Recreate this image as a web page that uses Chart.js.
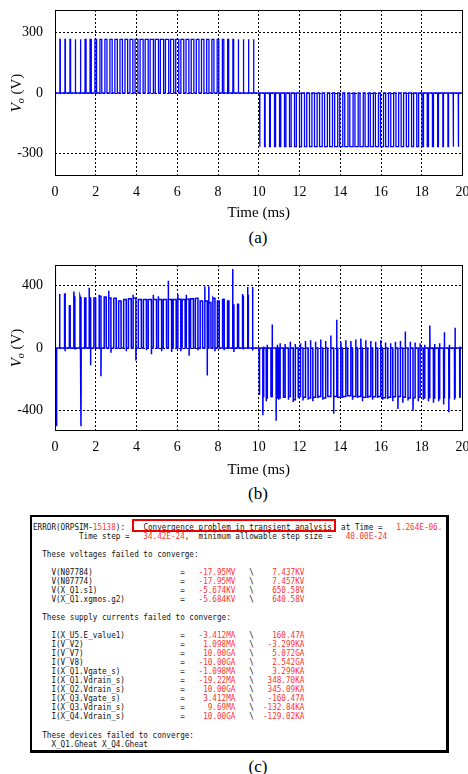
<!DOCTYPE html>
<html>
<head>
<meta charset="utf-8">
<script src="https://cdn.jsdelivr.net/npm/chart.js@4.4.1/dist/chart.umd.min.js"></script>
<style>
  html, body { margin: 0; padding: 0; background: #fff; }
  #page { position: relative; width: 468px; height: 774px; overflow: hidden; background: #fff; }
  canvas { position: absolute; left: 0; }
  .cap { position: absolute; left: 208px; width: 100px; text-align: center; font: 17px "Liberation Serif", serif; line-height: 18px; color: #000; }
  #log { position: absolute; left: 29.5px; top: 515px; width: 419.5px; height: 237.5px; box-sizing: border-box; border: solid #000; border-width: 2px 3px 3px 2px; }
  #logText { position: absolute; left: 33.3px; top: 521.5px; margin: 0; font: 9.5px "DejaVu Sans Mono", monospace; line-height: 9.05px; color: #111; white-space: pre; transform: scaleX(0.804); transform-origin: 0 0; }
  #logText .r { color: #f33; }
  #mark { position: absolute; left: 131.7px; top: 519px; width: 204px; height: 13px; box-sizing: border-box; border: 2px solid #e00; }
</style>
</head>
<body>
<div id="page">
  <canvas id="chartA" width="468" height="222" style="top:0"></canvas>
  <div class="cap" style="top:229px">(a)</div>
  <canvas id="chartB" width="468" height="229" style="top:250px"></canvas>
  <div class="cap" style="top:485px">(b)</div>
  <div id="log"></div>
  <pre id="logText"></pre>
  <div id="mark"></div>
  <div class="cap" style="top:758px">(c)</div>
</div>
<script>
// shared axes
const timeTicks = [0, 2, 4, 6, 8, 10, 12, 14, 16, 18, 20];
const ticksA = [-300, 0, 300];
const ticksB = [-400, 0, 400];

// (a) ideal output voltage: pulse centres (ms), widths (ms), level (V)
const levelA = 265;
const startTA = [0, 0.02];
const startVA = [-50, 0];
const posAtA = [0.25, 0.50, 0.75, 1.00, 1.25, 1.50, 1.75, 2.00, 2.25, 2.50, 2.75, 3.00, 3.25, 3.50, 3.75, 4.00,
  4.25, 4.50, 4.75, 5.00, 5.25, 5.50, 5.75, 6.00, 6.25, 6.50, 6.75, 7.00, 7.25, 7.50, 7.75, 8.00,
  8.25, 8.50, 8.75, 9.00, 9.25, 9.50, 9.75];
const posWA = [0.02, 0.02, 0.03, 0.03, 0.04, 0.05, 0.06, 0.08, 0.09, 0.10, 0.11, 0.12, 0.12, 0.13, 0.14, 0.14,
  0.15, 0.15, 0.16, 0.16, 0.16, 0.16, 0.15, 0.15, 0.14, 0.14, 0.13, 0.13, 0.12, 0.11, 0.10, 0.08,
  0.07, 0.05, 0.04, 0.03, 0.03, 0.02, 0.02];
const negAtA = [10.05, 10.30, 10.55, 10.80, 11.05, 11.30, 11.55, 11.80, 12.05, 12.30, 12.55, 12.80, 13.05, 13.30,
  13.55, 13.80, 14.05, 14.30, 14.55, 14.80, 15.05, 15.30, 15.55, 15.80, 16.05, 16.30, 16.55, 16.80,
  17.05, 17.30, 17.55, 17.80, 18.05, 18.30, 18.55, 18.80, 19.05, 19.30, 19.55, 19.80];
const negWA = [0.02, 0.03, 0.04, 0.05, 0.06, 0.07, 0.08, 0.09, 0.10, 0.11, 0.12, 0.13, 0.13, 0.14, 0.14, 0.15,
  0.15, 0.16, 0.16, 0.16, 0.16, 0.16, 0.15, 0.15, 0.15, 0.14, 0.14, 0.13, 0.12, 0.11, 0.10, 0.09,
  0.07, 0.06, 0.05, 0.04, 0.03, 0.03, 0.02, 0.02];

// (b) simulated output: start transient, then pulses with edge spikes
const startTB = [0, 0, 0.03, 0.05, 0.08];
const startVB = [0, 515, -495, -495, 0];
const posAtB = [0.23, 0.48, 0.72, 0.95, 1.25, 1.48, 1.71, 1.95, 2.21, 2.46, 2.69, 2.94, 3.18, 3.43, 3.67, 3.90,
  4.16, 4.41, 4.65, 4.90, 5.15, 5.39, 5.64, 5.87, 6.10, 6.31, 6.51, 6.72, 6.95, 7.18, 7.41, 7.60,
  7.80, 8.01, 8.26, 8.50, 8.75, 8.98, 9.22, 9.47, 9.70];
const posWB = [0.02, 0.03, 0.04, 0.05, 0.05, 0.06, 0.07, 0.08, 0.09, 0.10, 0.11, 0.12, 0.12, 0.13, 0.14, 0.14,
  0.15, 0.15, 0.16, 0.16, 0.16, 0.16, 0.16, 0.15, 0.15, 0.15, 0.14, 0.14, 0.13, 0.12, 0.12, 0.11,
  0.10, 0.09, 0.08, 0.07, 0.06, 0.05, 0.04, 0.03, 0.02];
const posTopB = [345, 345, 270, 330, 325, 320, 320, 320, 330, 325, 320, 318, 300, 310, 315, 320,
  310, 310, 310, 310, 310, 310, 310, 310, 312, 310, 312, 315, 318, 300, 300, 290,
  318, 300, 312, 300, 275, 280, 330, 335, 330];
const posPeakB = [345, 345, 270, 360, 330, 320, 385, 320, 340, 330, 365, 320, 300, 310, 320, 340,
  310, 310, 310, 340, 330, 310, 430, 310, 345, 310, 340, 320, 320, 300, 395, 395,
  320, 300, 315, 300, 505, 280, 345, 390, 390];
const posDipB = [0, -20, 0, -10, -500, 0, -110, 0, -180, 0, -30, 0, 0, -20, 0, -80,
  0, -15, -40, 0, -20, 0, -25, 0, -20, 0, -50, 0, -15, 0, -175, 0,
  -20, 0, -15, 0, -25, 0, -10, 0, -15];
const negAtB = [10.03, 10.22, 10.39, 10.63, 10.88, 11.01, 11.25, 11.50, 11.74, 11.99, 12.23, 12.48, 12.72, 12.97,
  13.21, 13.46, 13.75, 13.95, 14.19, 14.44, 14.68, 14.93, 15.17, 15.42, 15.66, 15.91, 16.15, 16.40,
  16.64, 16.89, 17.13, 17.38, 17.62, 17.87, 18.11, 18.36, 18.60, 18.85, 19.09, 19.34, 19.62, 19.87];
const negWB = [0.03, 0.04, 0.05, 0.06, 0.06, 0.07, 0.08, 0.09, 0.10, 0.11, 0.12, 0.12, 0.13, 0.14, 0.14, 0.15,
  0.15, 0.16, 0.16, 0.16, 0.16, 0.16, 0.16, 0.15, 0.15, 0.15, 0.14, 0.14, 0.13, 0.12, 0.12, 0.11,
  0.10, 0.09, 0.08, 0.07, 0.06, 0.05, 0.04, 0.03, 0.03, 0.02];
const negLowB = [-300, -310, -320, -310, -320, -320, -315, -310, -330, -310, -315, -320, -315, -310, -320, -310,
  -310, -315, -310, -305, -310, -310, -315, -310, -312, -310, -318, -315, -312, -310, -315, -320,
  -318, -315, -320, -318, -320, -322, -318, -320, -315, -310];
const negPeakB = [-300, -430, -340, -310, -465, -330, -320, -330, -345, -320, -335, -330, -340, -320, -330, -315,
  -420, -315, -320, -310, -330, -320, -340, -320, -330, -320, -330, -325, -340, -390, -350, -335,
  -400, -340, -330, -340, -350, -340, -360, -410, -330, -320];
const negBlipB = [0, 10, 20, 150, 20, 30, 25, 40, 25, 30, 45, 50, 40, 55, 45, 80,
  180, 40, 50, 45, 55, 60, 50, 45, 40, 50, 35, 30, 40, 45, 106, 40,
  35, 30, 20, 143, 25, 30, 100, 20, 130, 10];

// log listing
const voltNames = ['V(N07784)', 'V(N07774)', 'V(X_Q1.s1)', 'V(X_Q1.xgmos.g2)'];
const voltNow = ['-17.95MV', '-17.95MV', '-5.674KV', '-5.684KV'];
const voltPrev = ['7.437KV', '7.457KV', '650.58V', '640.58V'];
const currNames = ['I(X_U5.E_value1)', 'I(V_V2)', 'I(V_V7)', 'I(V_V8)', 'I(X_Q1.Vgate_s)', 'I(X_Q1.Vdrain_s)',
  'I(X_Q2.Vdrain_s)', 'I(X_Q3.Vgate_s)', 'I(X_Q3.Vdrain_s)', 'I(X_Q4.Vdrain_s)'];
const currNow = ['-3.412MA', '1.098MA', '10.00GA', '-10.00GA', '-1.098MA', '-19.22MA', '10.00GA', '3.412MA', '9.69MA', '10.00GA'];
const currPrev = ['160.47A', '-3.299KA', '5.072GA', '2.542GA', '3.299KA', '348.70KA', '345.09KA', '-160.47A', '-132.84KA', '-129.02KA'];

function traceA() {
  const pts = startTA.map((t, i) => ({x: t, y: startVA[i]}));
  posAtA.forEach((c, i) => {
    const on = c - posWA[i] / 2, off = c + posWA[i] / 2;
    pts.push({x: on, y: 0}, {x: on, y: levelA}, {x: off, y: levelA}, {x: off, y: 0});
  });
  negAtA.forEach((c, i) => {
    const on = c - negWA[i] / 2, off = c + negWA[i] / 2;
    pts.push({x: on, y: 0}, {x: on, y: -levelA}, {x: off, y: -levelA}, {x: off, y: 0});
  });
  pts.push({x: 20, y: 0});
  return pts;
}

function traceB() {
  const pts = startTB.map((t, i) => ({x: t, y: startVB[i]}));
  posAtB.forEach((c, i) => {
    const w = posWB[i], on = c - w / 2, off = c + w / 2, e = Math.min(0.01, w / 2);
    pts.push({x: on, y: 0}, {x: on, y: posPeakB[i]}, {x: on + e, y: posTopB[i]},
      {x: off, y: posTopB[i]}, {x: off, y: posDipB[i]}, {x: off + 0.01, y: 0});
  });
  negAtB.forEach((c, i) => {
    const w = negWB[i], on = c - w / 2, off = c + w / 2, e = Math.min(0.01, w / 2);
    pts.push({x: on, y: 0}, {x: on, y: negPeakB[i]}, {x: on + e, y: negLowB[i]},
      {x: off, y: negLowB[i]}, {x: off, y: negBlipB[i]}, {x: off + 0.01, y: 0});
  });
  pts.push({x: 20, y: 0});
  return pts;
}

const serif = '"Liberation Serif", "Times New Roman", serif';

// closed box round the plot area
const frame = {
  id: 'frame',
  afterDraw(chart) {
    const {ctx, chartArea: a} = chart;
    ctx.save();
    ctx.strokeStyle = '#000';
    ctx.lineWidth = 1;
    ctx.strokeRect(Math.round(a.left) + 0.5, Math.round(a.top) + 0.5, Math.round(a.width) - 1, Math.round(a.height) - 1);
    ctx.restore();
  }
};

// rotated "Vo (V)" with italic subscript
const yLabel = {
  id: 'yLabel',
  afterDraw(chart) {
    const {ctx, chartArea: a} = chart;
    const big = 'italic 15px ' + serif, small = 'italic 10px ' + serif, plain = '15px ' + serif;
    ctx.save();
    ctx.font = big; const w1 = ctx.measureText('V').width;
    ctx.font = small; const w2 = ctx.measureText('o').width;
    ctx.font = plain; const w3 = ctx.measureText(' (V)').width;
    ctx.translate(21, (a.top + a.bottom) / 2);
    ctx.rotate(-Math.PI / 2);
    ctx.fillStyle = '#000';
    ctx.textBaseline = 'alphabetic';
    let x = -(w1 + w2 + w3) / 2;
    ctx.font = big; ctx.fillText('V', x, 0); x += w1;
    ctx.font = small; ctx.fillText('o', x, 3); x += w2;
    ctx.font = plain; ctx.fillText(' (V)', x, 0);
    ctx.restore();
  }
};

function makeChart(id, pts, yMin, yMax, yTicks, padTop, xHeight, lineW) {
  return new Chart(document.getElementById(id), {
    type: 'line',
    data: {
      datasets: [{
        data: pts,
        borderColor: '#0000ff',
        borderWidth: lineW,
        pointRadius: 0,
        fill: false,
        tension: 0
      }]
    },
    options: {
      responsive: false,
      animation: false,
      devicePixelRatio: 1,
      layout: {padding: {top: padTop, right: 5.5, left: 0, bottom: 0}},
      plugins: {legend: {display: false}, tooltip: {enabled: false}},
      scales: {
        x: {
          type: 'linear', min: 0, max: 20,
          afterBuildTicks: s => { s.ticks = timeTicks.map(v => ({value: v})); },
          afterFit: s => { s.height = xHeight; s.paddingLeft = 0; s.paddingRight = 0; },
          ticks: {font: {family: serif, size: 14}, color: '#000', padding: 8, maxRotation: 0, autoSkip: false},
          grid: {color: '#000', lineWidth: 1, drawTicks: false},
          border: {display: false, dash: [2, 2]},
          title: {display: true, text: 'Time (ms)', color: '#000', font: {family: serif, size: 15}, padding: 0}
        },
        y: {
          type: 'linear', min: yMin, max: yMax,
          afterBuildTicks: s => { s.ticks = yTicks.map(v => ({value: v})); },
          afterFit: s => { s.width = 55; s.paddingTop = 0; s.paddingBottom = 0; },
          ticks: {font: {family: serif, size: 14}, color: '#000', padding: 12},
          grid: {color: '#000', lineWidth: 1, drawTicks: false},
          border: {display: false, dash: [2, 2]}
        }
      }
    },
    plugins: [frame, yLabel]
  });
}

makeChart('chartA', traceA(), -410, 410, ticksA, 10, 46, 1.3);
makeChart('chartB', traceB(), -530, 530, ticksB, 15, 48, 1.5);

// convergence report text
function red(s) { return '<span class="r">' + s + '</span>'; }
function row(name, now, prev) {
  let s = ('    ' + name).padEnd(32) + '=';
  let out = s + ' '.repeat(44 - now.length - s.length) + red(now);
  out += ' '.repeat(3) + '\\';
  out += ' '.repeat(59 - prev.length - 48) + red(prev);
  return out;
}
const lines = [];
lines.push('ERROR(ORPSIM-' + red('15138') + '):    Convergence problem in transient analysis  at Time =   ' + red('1.264E-06.'));
lines.push('          Time step =   ' + red('34.42E-24') + ',  minimum allowable step size =   ' + red('40.00E-24'));
lines.push('');
lines.push('  These voltages failed to converge:');
lines.push('');
voltNames.forEach((n, i) => lines.push(row(n, voltNow[i], voltPrev[i])));
lines.push('');
lines.push('  These supply currents failed to converge:');
lines.push('');
currNames.forEach((n, i) => lines.push(row(n, currNow[i], currPrev[i])));
lines.push('');
lines.push('  These devices failed to converge:');
lines.push('    X_Q1.Gheat X_Q4.Gheat');
document.getElementById('logText').innerHTML = lines.join('\n');
</script>
</body>
</html>
